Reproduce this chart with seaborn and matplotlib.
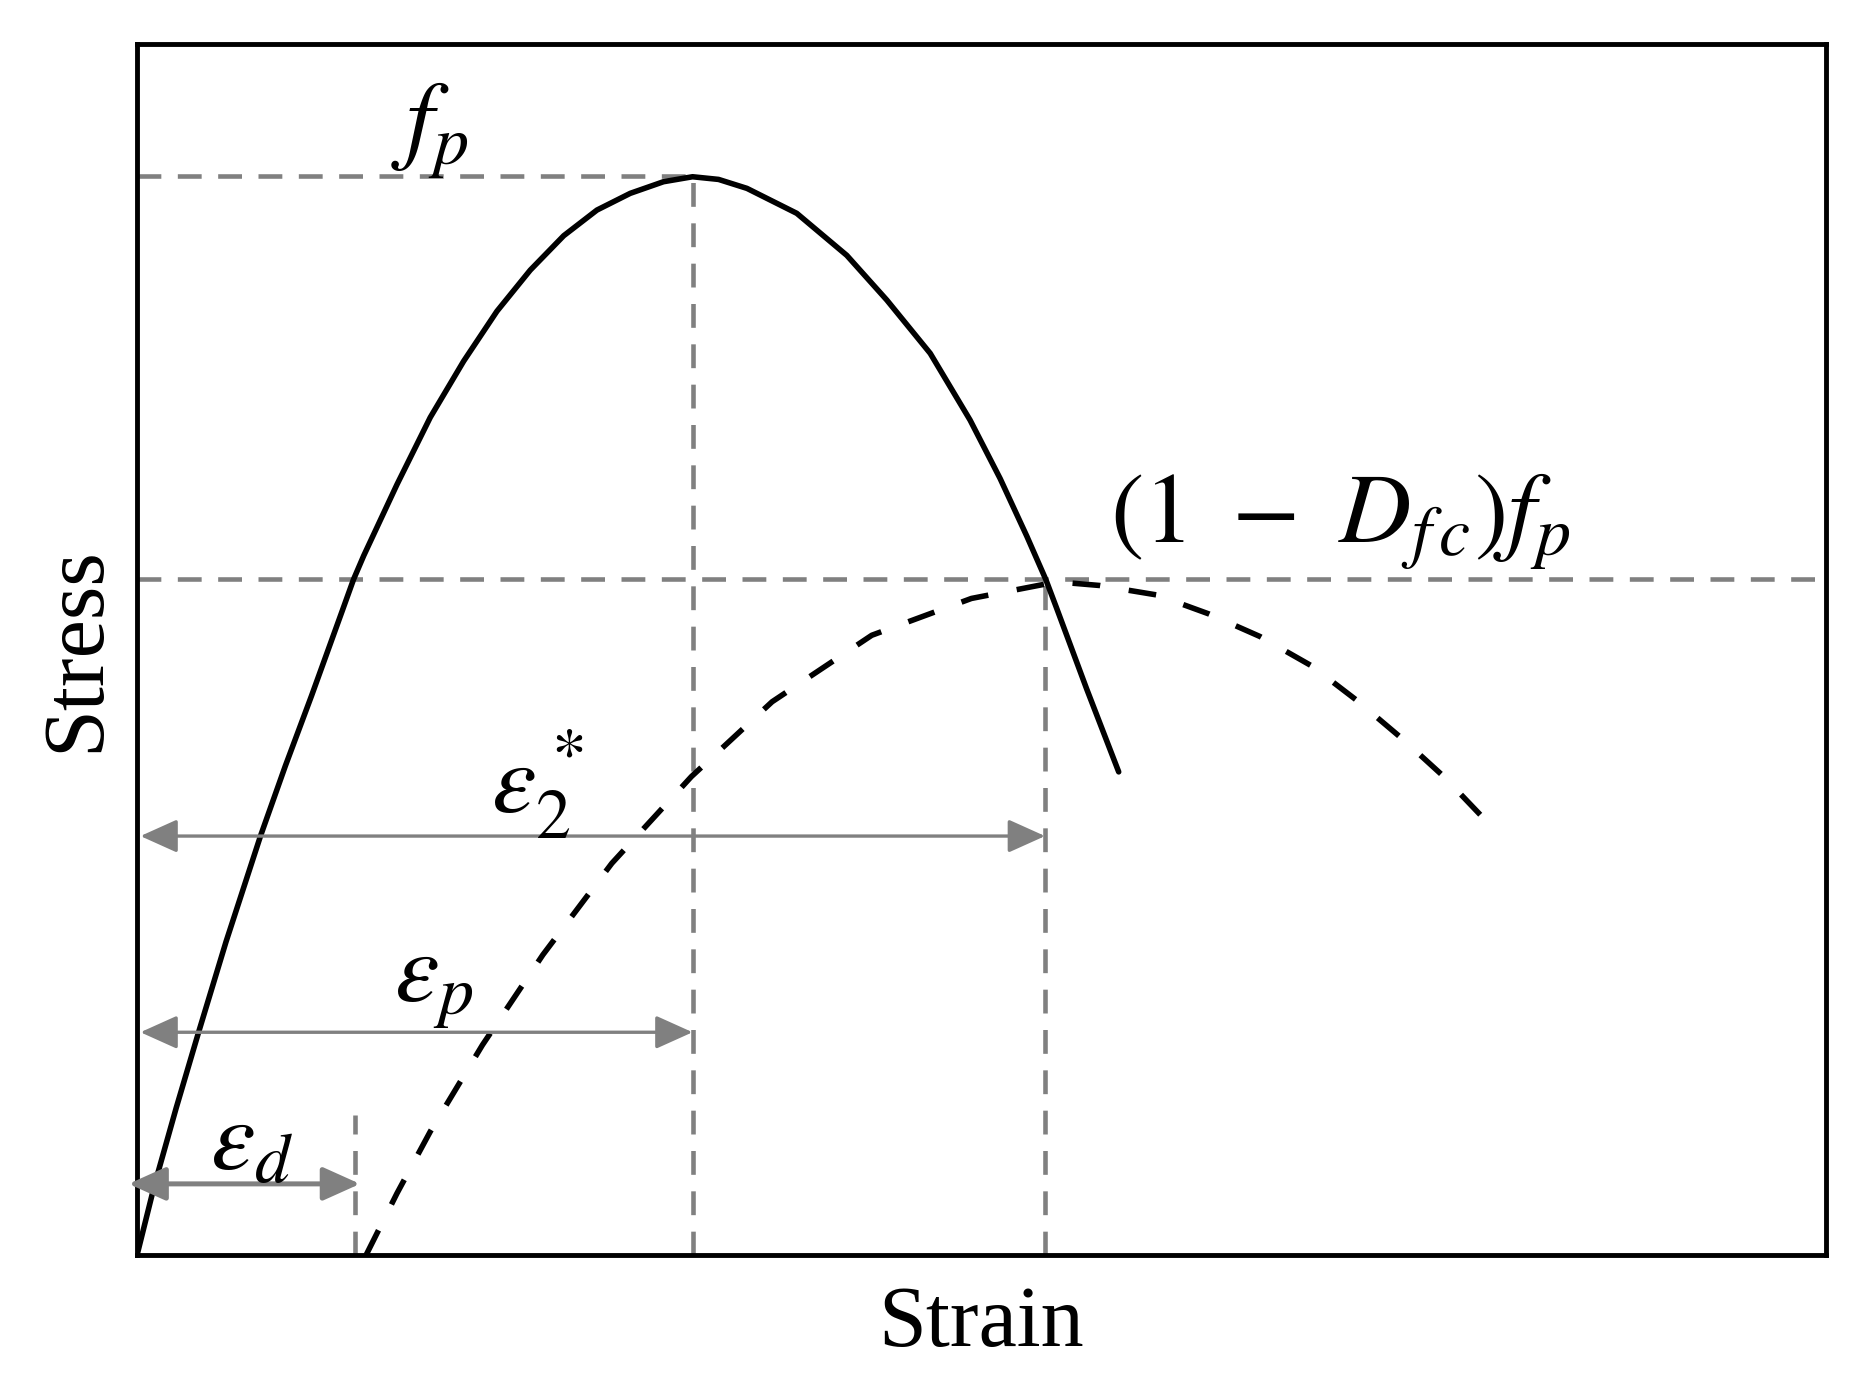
import numpy as np
import pandas as pd
import matplotlib
matplotlib.use("Agg")
import matplotlib.pyplot as plt
import seaborn as sns

# Envelope curve (solid) - strain / stress, normalised 0..1
solid_strain = [0.0, 0.0105, 0.0232, 0.0365, 0.0527, 0.0731, 0.0878, 0.1033, 0.1216,
                0.1282, 0.1342, 0.1539, 0.1736, 0.1934, 0.2131, 0.2328, 0.2526, 0.2723,
                0.2920, 0.3117, 0.3289, 0.3443, 0.3611, 0.3906, 0.4202, 0.4439, 0.4696,
                0.4932, 0.5110, 0.5268, 0.5380, 0.5445, 0.5622, 0.5812]
solid_stress = [0.0, 0.0588, 0.1216, 0.1843, 0.2588, 0.3461, 0.4039, 0.4618, 0.5324,
                0.5580, 0.5775, 0.6363, 0.6917, 0.7382, 0.7794, 0.8133, 0.8417, 0.8629,
                0.8767, 0.8863, 0.8904, 0.8882, 0.8808, 0.8602, 0.8255, 0.7886, 0.7446,
                0.6895, 0.6412, 0.5936, 0.5580, 0.5340, 0.4676, 0.3990]

# Damaged curve (dashed)
dash_strain = [0.1356, 0.1539, 0.1736, 0.2045, 0.2403, 0.2811, 0.3282, 0.3760, 0.4350,
               0.4940, 0.5446, 0.5699, 0.6037, 0.6346, 0.6648, 0.6957, 0.7224, 0.7498,
               0.7737, 0.8032]
dash_stress = [0.0, 0.0510, 0.1020, 0.1735, 0.2480, 0.3235, 0.3951, 0.4569, 0.5118,
               0.5422, 0.5559, 0.5529, 0.5451, 0.5294, 0.5108, 0.4863, 0.4578, 0.4255,
               0.3951, 0.3520]

# Reference levels
eps_d = 0.1293
eps_p = 0.3289
eps_2 = 0.5376
f_p = 0.891
f_res = 0.558
eps_d_top = 0.1157

# Dimension arrows: (start strain, end strain, stress level)
arrow_eps2 = (0.002, eps_2, 0.346)
arrow_epsp = (0.002, eps_p, 0.184)
arrow_epsd = (-0.005, 0.132, 0.0588)

sns.set_style("white")
plt.rcParams['font.family'] = ['Liberation Serif', 'DejaVu Serif']
plt.rcParams['mathtext.fontset'] = 'stix'
plt.rcParams['text.color'] = 'black'
plt.rcParams['axes.labelcolor'] = 'black'

fig, ax = plt.subplots(figsize=(18.62, 13.93), dpi=100)
fig.subplots_adjust(left=0.0736, right=0.9807, bottom=0.099, top=0.9684)

grey = '#808080'
gl = dict(color=grey, lw=3.3, dashes=(5.2, 3.6))

# guide lines
ax.plot([0, eps_p], [f_p, f_p], **gl)
ax.plot([eps_p, eps_p], [0, f_p], **gl)
ax.plot([0, 1], [f_res, f_res], **gl)
ax.plot([eps_2, eps_2], [0, f_res], **gl)
ax.plot([eps_d, eps_d], [0, eps_d_top], **gl)

# curves
df_solid = pd.DataFrame({'strain': solid_strain, 'stress': solid_stress})
df_dash = pd.DataFrame({'strain': dash_strain, 'stress': dash_stress})
sns.lineplot(data=df_solid, x='strain', y='stress', sort=False, estimator=None,
             color='black', lw=4.0, ax=ax, solid_joinstyle='round')
sns.lineplot(data=df_dash, x='strain', y='stress', sort=False, estimator=None,
             color='black', lw=4.0, ax=ax, dashes=False)
ax.lines[-1].set_dashes((5.0, 5.2))

# arrows
for x0, x1, y in [arrow_eps2, arrow_epsp, arrow_epsd]:
    lw = 2.4 if y > 0.1 else 3.6
    ax.annotate('', xy=(x1, y), xytext=(x0, y),
                arrowprops=dict(arrowstyle='<|-|>,head_length=0.6,head_width=0.27',
                                color=grey, lw=lw, shrinkA=0, shrinkB=0,
                                mutation_scale=38),
                annotation_clip=False)

# labels
fs = 72
ax.text(0.1736, 0.928, r'$f_p$', fontsize=fs, ha='center', va='center')
ax.text(0.7126, 0.605, r'$(1\ -\ D_{f\,c})f_p$', fontsize=fs, ha='center', va='center')
ax.text(0.237, 0.389, r'$\varepsilon_2^*$', fontsize=fs, ha='center', va='center')
ax.text(0.1757, 0.2225, r'$\varepsilon_p$', fontsize=fs, ha='center', va='center')
ax.text(0.068, 0.090, r'$\varepsilon_d$', fontsize=fs, ha='center', va='center')

ax.set_xlim(0, 1)
ax.set_ylim(0, 1)
ax.set_xticks([])
ax.set_yticks([])
ax.set_xlabel('Strain', fontsize=62, labelpad=22)
ax.set_ylabel('Stress', fontsize=62, labelpad=14)
for s in ax.spines.values():
    s.set_visible(True)
    s.set_color('black')
    s.set_linewidth(3.5)

plt.savefig('out.png', dpi=100)
